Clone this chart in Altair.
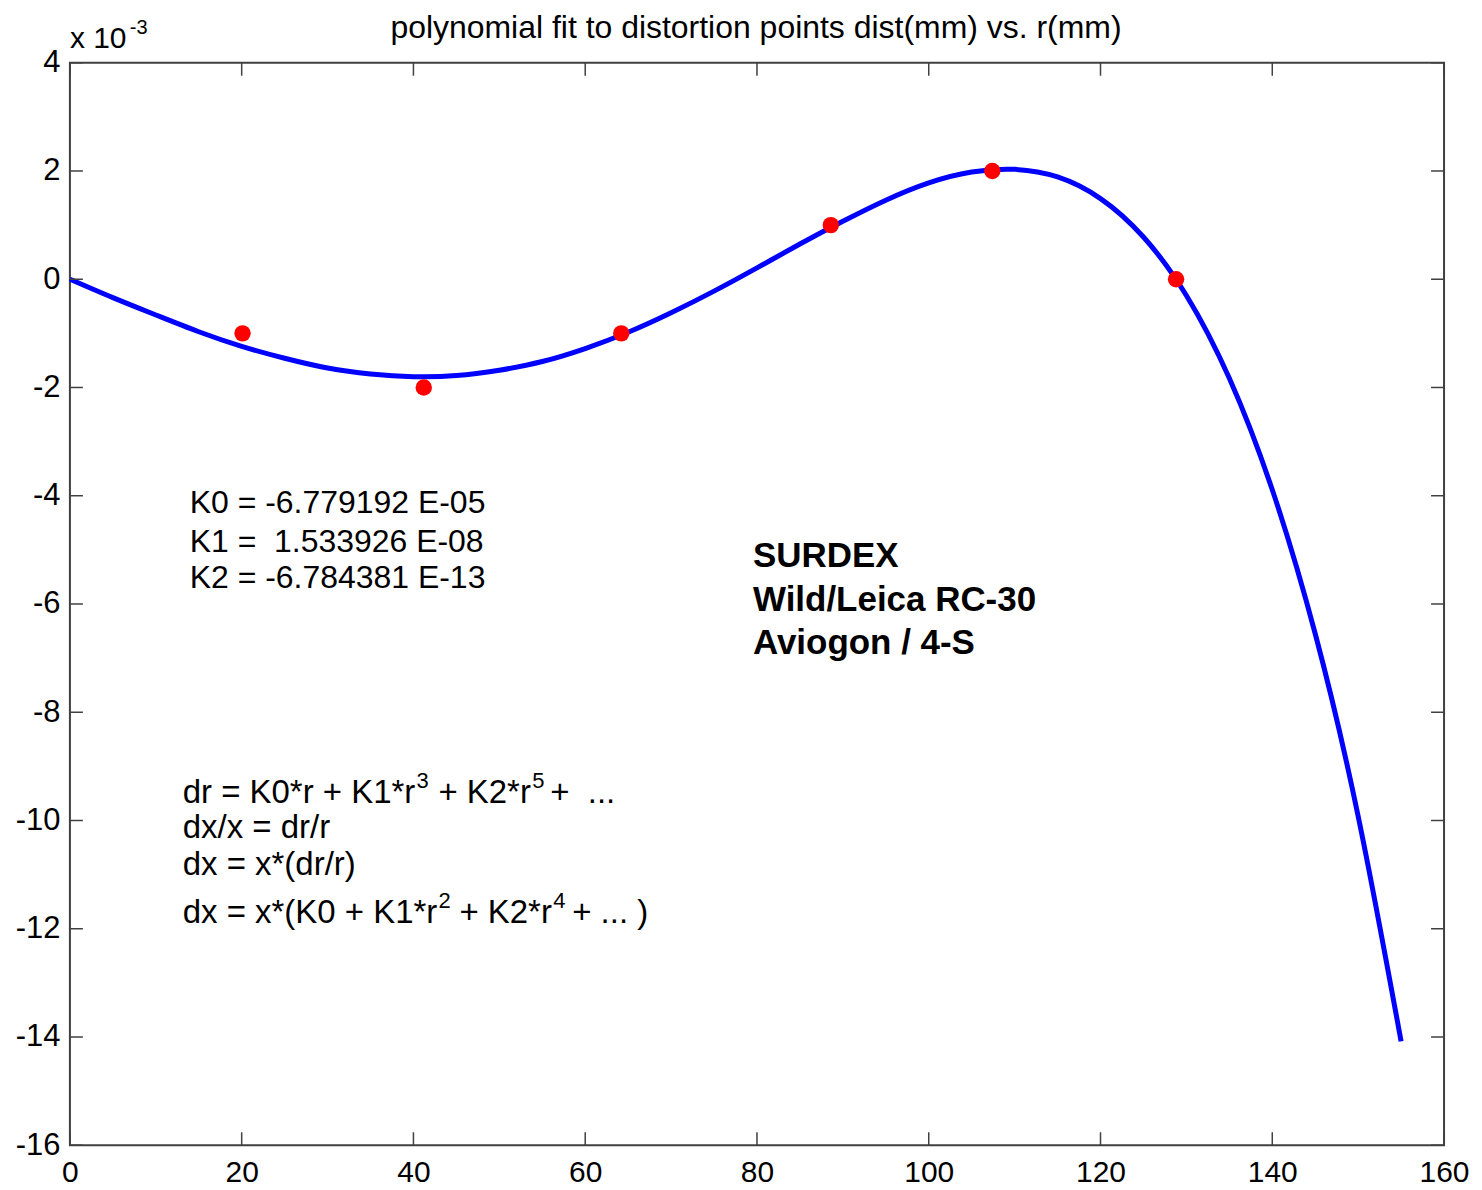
import altair as alt
import pandas as pd

# ---- data (distortion in units of 1e-3 mm) ----
r_curve = [0, 5, 10, 15, 20, 25, 30, 35, 40, 45, 50, 55, 60, 65, 70, 75, 80,
           85, 90, 95, 100, 105, 110, 115, 120, 125, 130, 135, 140, 145, 150, 155]
d_curve = [0.0, -0.34, -0.66, -0.97, -1.24, -1.46, -1.64, -1.75, -1.80, -1.78,
           -1.68, -1.52, -1.28, -0.98, -0.62, -0.22, 0.21, 0.65, 1.07, 1.46,
           1.78, 1.98, 2.03, 1.89, 1.49, 0.78, -0.30, -1.83, -3.89, -6.55,
           -9.92, -14.08]
r_pts = [20.1, 41.2, 64.2, 88.6, 107.4, 128.8]
d_pts = [-1, -2, -1, 1, 2, 0]
x_ticks = [0, 20, 40, 60, 80, 100, 120, 140, 160]
y_ticks = [4, 2, 0, -2, -4, -6, -8, -10, -12, -14, -16]

TITLE = "polynomial fit to distortion points dist(mm) vs. r(mm)"

W, H = 1376, 1084
FONT = "Liberation Sans"
FRAME = "#404040"

curve_df = pd.DataFrame({"r": r_curve, "d": d_curve})
pts_df = pd.DataFrame({"r": r_pts, "d": d_pts})
xt_df = pd.DataFrame({"r": x_ticks})
yt_df = pd.DataFrame({"d": y_ticks})

xscale = alt.Scale(domain=[0, 160], nice=False, zero=False)
yscale = alt.Scale(domain=[-16, 4], nice=False, zero=False)
xaxis = alt.Axis(values=x_ticks, title=None, labelBaseline="alphabetic",
                 labelPadding=36, labelFontSize=30, labelFont=FONT,
                 labelColor="black", domain=False, ticks=False, grid=False,
                 labelFlush=False, labelExpr="datum.value + ''")
yaxis = alt.Axis(values=y_ticks, title=None, labelPadding=10, labelFontSize=31,
                 labelFont=FONT, labelColor="black", domain=False, ticks=False,
                 grid=False, labelFlush=False, labelExpr="datum.value + ''")
X = alt.X("r:Q", scale=xscale, axis=xaxis)
Y = alt.Y("d:Q", scale=yscale, axis=yaxis)

curve = alt.Chart(curve_df).mark_line(
    color="#0000ff", strokeWidth=5, interpolate="natural"
).encode(x=X, y=Y)

points = alt.Chart(pts_df).mark_circle(color="#ff0000", opacity=1, size=270).encode(
    x=X, y=Y)

TL = 13
tick_style = dict(color=FRAME, strokeWidth=1.5)
xb = alt.Chart(xt_df).mark_rule(**tick_style).encode(
    x=X, y=alt.value(H), y2=alt.value(H - TL))
xtp = alt.Chart(xt_df).mark_rule(**tick_style).encode(
    x=X, y=alt.value(0), y2=alt.value(TL))
yl = alt.Chart(yt_df).mark_rule(**tick_style).encode(
    y=Y, x=alt.value(0), x2=alt.value(TL))
yr = alt.Chart(yt_df).mark_rule(**tick_style).encode(
    y=Y, x=alt.value(W), x2=alt.value(W - TL))


def txt(s, px, py, size, weight="normal", align="left"):
    return alt.Chart(pd.DataFrame({"t": [s]})).mark_text(
        align=align, baseline="alphabetic", font=FONT, fontSize=size,
        fontWeight=weight, color="black"
    ).encode(x=alt.value(px), y=alt.value(py), text="t:N")


texts = [
    txt(TITLE, 687, -25, 32, align="center"),
    txt("x 10", 0, -15, 30),
    txt("-3", 60, -29, 20),
    txt("K0 = -6.779192 E-05", 120, 451, 32),
    txt("K1 =\u00a0 1.533926 E-08", 120, 490, 32),
    txt("K2 = -6.784381 E-13", 120, 526, 32),
    txt("SURDEX", 684, 505, 35, weight="bold"),
    txt("Wild/Leica RC-30", 684, 549, 35, weight="bold"),
    txt("Aviogon / 4-S", 684, 592, 35, weight="bold"),
    # formula line 1
    txt("dr = K0*r + K1*r", 113, 741, 33),
    txt("3", 347, 726, 22),
    txt("+ K2*r", 369, 741, 33),
    txt("5", 463, 726, 22),
    txt("+ \u00a0...", 481, 741, 33),
    # lines 2, 3
    txt("dx/x = dr/r", 113, 776, 33),
    txt("dx = x*(dr/r)", 113, 813, 33),
    # line 4
    txt("dx = x*(K0 + K1*r", 113, 861, 33),
    txt("2", 369, 846, 22),
    txt("+ K2*r", 390, 861, 33),
    txt("4", 484, 846, 22),
    txt("+ ... )", 503, 861, 33),
]

chart = alt.layer(curve, points, xb, xtp, yl, yr, *texts).properties(
    width=W, height=H,
    autosize=alt.AutoSizeParams(type="none"),
    padding={"left": 62, "top": 54, "right": 30, "bottom": 42},
    background="white",
).configure_view(
    stroke=FRAME, strokeWidth=2
)

chart.save("out.html", embed_options={"renderer": "svg", "actions": False})
